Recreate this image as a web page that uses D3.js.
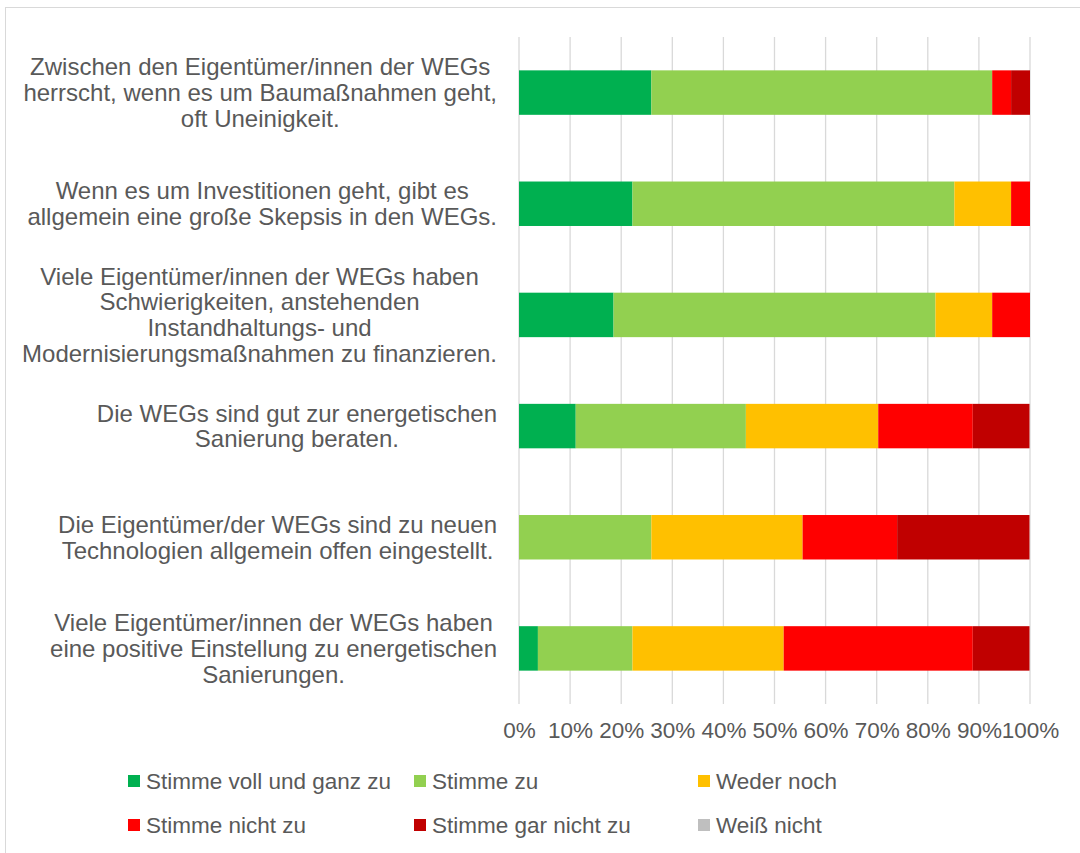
<!DOCTYPE html>
<html>
<head>
<meta charset="utf-8">
<script src="https://cdn.jsdelivr.net/npm/d3@7"></script>
<style>
  body { margin: 0; background: #fff; }
  text { font-family: "Liberation Sans", Arial, sans-serif; fill: #595959; }
</style>
</head>
<body>
<svg id="chart" width="1080" height="853"></svg>
<script>
// statements (one per bar, top to bottom), wrapped as in the original
const statements = [
  ["Zwischen den Eigentümer/innen der WEGs", "herrscht, wenn es um Baumaßnahmen geht,", "oft Uneinigkeit."],
  ["Wenn es um Investitionen geht, gibt es", "allgemein eine große Skepsis in den WEGs."],
  ["Viele Eigentümer/innen der WEGs haben", "Schwierigkeiten, anstehenden", "Instandhaltungs- und", "Modernisierungsmaßnahmen zu finanzieren."],
  ["Die WEGs sind gut zur energetischen", "Sanierung beraten."],
  ["Die Eigentümer/der WEGs sind zu neuen", "Technologien allgemein offen eingestellt."],
  ["Viele Eigentümer/innen der WEGs haben", "eine positive Einstellung zu energetischen", "Sanierungen."],
];

const answers = ["Stimme voll und ganz zu", "Stimme zu", "Weder noch", "Stimme nicht zu", "Stimme gar nicht zu", "Weiß nicht"];
const colors = ["#00b050", "#92d050", "#ffc000", "#ff0000", "#c00000", "#bfbfbf"];

// shares in %, one array per answer, in statement order
const vollZu = [25.9, 22.2, 18.5, 11.1, 0, 3.7];
const zu = [66.7, 63.0, 63.0, 33.3, 25.9, 18.5];
const weder = [0, 11.1, 11.1, 25.9, 29.6, 29.6];
const nichtZu = [3.7, 3.7, 7.4, 18.5, 18.5, 37.0];
const garNicht = [3.7, 0, 0, 11.1, 25.9, 11.1];
const weissNicht = [0, 0, 0, 0, 0, 0];

const xTicks = [0, 10, 20, 30, 40, 50, 60, 70, 80, 90, 100];

const series = [vollZu, zu, weder, nichtZu, garNicht, weissNicht];
const rows = statements.map((s, i) => {
  const row = { id: i };
  answers.forEach((a, j) => (row[a] = series[j][i]));
  return row;
});

const svg = d3.select("#chart");
const margin = { top: 37, right: 50, bottom: 149, left: 519 };
const width = 1080 - margin.left - margin.right;
const height = 853 - margin.top - margin.bottom;

// outer chart border (right/bottom run off the picture)
svg.append("rect")
  .attr("x", 5.5).attr("y", 7.5)
  .attr("width", 1100).attr("height", 900)
  .attr("fill", "none").attr("stroke", "#d9d9d9");

const chart = svg.append("g").attr("transform", `translate(${margin.left},${margin.top})`);

const x = d3.scaleLinear().domain([0, 100]).range([0, width]);
const y = d3.scaleBand().domain(d3.range(statements.length)).range([0, height]).paddingInner(0.6).paddingOuter(0.3);

// gridlines
chart.append("g")
  .selectAll("line")
  .data(xTicks)
  .join("line")
  .attr("x1", (d) => x(d)).attr("x2", (d) => x(d))
  .attr("y1", 0).attr("y2", height)
  .attr("stroke", "#d9d9d9").attr("stroke-width", 1.3);

const stack = d3.stack().keys(answers)(rows);

chart.append("g")
  .selectAll("g")
  .data(stack)
  .join("g")
  .attr("fill", (d, i) => colors[i])
  .selectAll("rect")
  .data((d) => d)
  .join("rect")
  .attr("x", (d) => x(d[0]))
  .attr("y", (d) => y(d.data.id))
  .attr("width", (d) => x(d[1]) - x(d[0]))
  .attr("height", y.bandwidth());

// x axis labels
const xAxis = chart.append("g")
  .attr("transform", `translate(0,${height})`)
  .call(d3.axisBottom(x).tickValues(xTicks).tickFormat((d) => d + "%").tickSize(0).tickPadding(18));
xAxis.select(".domain").remove();
xAxis.selectAll("text").attr("font-size", 22.5).attr("font-family", null).attr("fill", "#595959");

// category labels: block centred, right edge at 497
const lineH = 25.8;
statements.forEach((lines, i) => {
  const cy = margin.top + y(i) + y.bandwidth() / 2;
  const t = svg.append("text")
    .attr("font-size", 24)
    .attr("text-anchor", "middle");
  lines.forEach((l, k) => {
    t.append("tspan")
      .attr("y", cy + (k - (lines.length - 1) / 2) * lineH)
      .attr("dy", "0.35em")
      .text(l);
  });
  const maxW = d3.max(t.selectAll("tspan").nodes(), (n) => n.getComputedTextLength());
  t.selectAll("tspan").attr("x", 497 - maxW / 2);
});

// legend
const legendCols = [128, 414, 698];
const legendRows = [781, 825];
const legend = svg.append("g")
  .selectAll("g")
  .data(answers)
  .join("g")
  .attr("transform", (d, i) => `translate(${legendCols[i % 3]},${legendRows[Math.floor(i / 3)]})`);

legend.append("rect")
  .attr("x", 0).attr("y", -6)
  .attr("width", 12).attr("height", 12)
  .attr("fill", (d, i) => colors[i]);

legend.append("text")
  .attr("x", 18).attr("dy", "0.35em")
  .attr("font-size", 22.5)
  .text((d) => d);
</script>
</body>
</html>
